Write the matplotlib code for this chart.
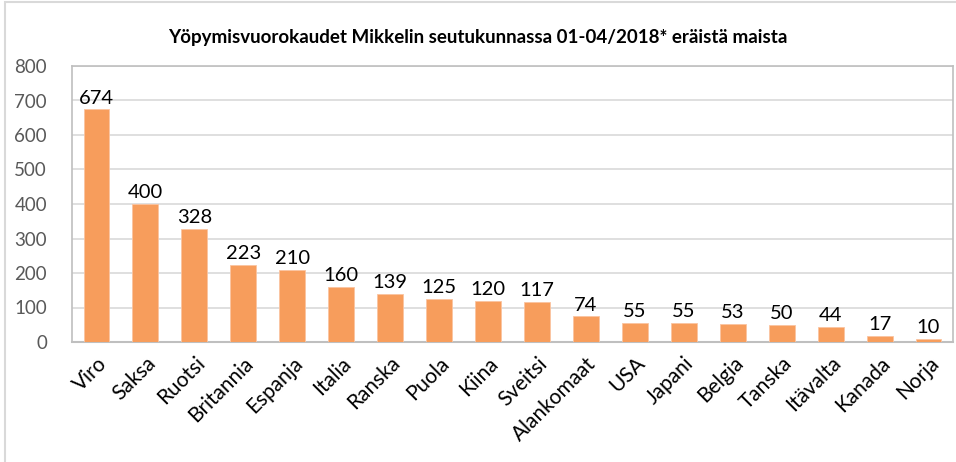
import matplotlib.pyplot as plt
from matplotlib.patches import Rectangle

countries = ['Viro', 'Saksa', 'Ruotsi', 'Britannia', 'Espanja', 'Italia', 'Ranska',
             'Puola', 'Kiina', 'Sveitsi', 'Alankomaat', 'USA', 'Japani', 'Belgia',
             'Tanska', 'Itävalta', 'Kanada', 'Norja']
nights = [674, 400, 328, 223, 210, 160, 139, 125, 120, 117, 74, 55, 55, 53, 50, 44, 17, 10]
yticks = [0, 100, 200, 300, 400, 500, 600, 700, 800]
title = 'Yöpymisvuorokaudet Mikkelin seutukunnassa 01-04/2018* eräistä maista'

plt.rcParams['font.family'] = ['Lato', 'DejaVu Sans']

fig = plt.figure(figsize=(9.56, 4.62), dpi=100)
ax = fig.add_axes([72 / 956, 1 - 342 / 462, 881 / 956, 276 / 462])

x = range(len(countries))
bars = ax.bar(x, nights, width=0.53, color='#F79D5C', edgecolor='#FBC4A0', linewidth=0.6, zorder=3)
for xi, v in zip(x, nights):
    ax.text(xi, v + 8, str(v), ha='center', va='bottom', fontsize=14.5, color='black')

ax.set_xlim(-0.5, len(countries) - 0.5)
ax.set_ylim(0, 800)
ax.set_yticks(yticks)
ax.set_yticklabels([str(t) for t in yticks], fontsize=13.5, color='#595959')
ax.yaxis.grid(True, color='#D9D9D9', linewidth=1.2, zorder=0)
ax.tick_params(axis='y', length=0, pad=18)
ax.set_xticks(list(x))
ax.set_xticklabels(countries, rotation=45, ha='right', rotation_mode='anchor', fontsize=15)
ax.tick_params(axis='x', length=0, pad=8)
for s in ['top', 'right', 'left']:
    ax.spines[s].set_color('#BFBFBF')
    ax.spines[s].set_linewidth(1.2)
ax.spines['bottom'].set_color('#BFBFBF')
ax.spines['bottom'].set_linewidth(1.5)

fig.text(0.5, 1 - 38 / 462, title, ha='center', va='center', fontsize=13.5, fontweight='bold')
fig.patches.append(Rectangle((5 / 956, -0.01), 1.0, 1 - 2 / 462 + 0.01, transform=fig.transFigure,
                             fill=False, edgecolor='#D9D9D9', linewidth=1.5))

fig.savefig('out.png', dpi=100)
